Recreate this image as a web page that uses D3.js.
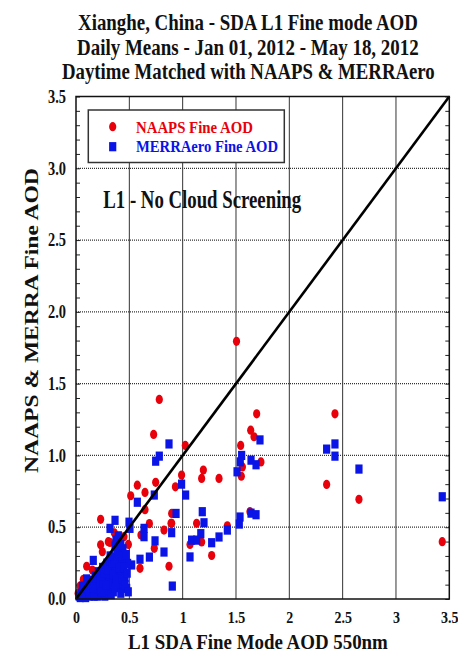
<!DOCTYPE html>
<html>
<head>
<meta charset="utf-8">
<script src="https://cdn.jsdelivr.net/npm/d3@7"></script>
<style>
  html, body { margin: 0; padding: 0; background: #fff; }
  svg { display: block; }
  text { font-family: "Liberation Serif", "Times New Roman", serif; font-weight: bold; }
</style>
</head>
<body>
<svg id="chart" width="458" height="658"></svg>
<script>
// Titles and labels
const titleLines = [
  "Xianghe, China - SDA L1 Fine mode AOD",
  "Daily Means - Jan 01, 2012 - May 18, 2012",
  "Daytime Matched with NAAPS & MERRAero"
];
const xAxisTitle = "L1 SDA Fine Mode AOD 550nm";
const yAxisTitle = "NAAPS & MERRA Fine AOD";
const noteText = "L1 - No Cloud Screening";
const seriesNames = ["NAAPS Fine AOD", "MERRAero Fine AOD"];

// Tick values and labels
const majorTicks = [0, 0.5, 1, 1.5, 2, 2.5, 3, 3.5];
const xTickLabels = ["0", "0.5", "1", "1.5", "2", "2.5", "3", "3.5"];
const yTickLabels = ["0.0", "0.5", "1.0", "1.5", "2.0", "2.5", "3.0", "3.5"];
const minorTicks = d3.range(0, 36).map(i => i / 10);

// NAAPS fine AOD vs. AERONET L1 SDA fine AOD  [x, y]
const naaps = [
  [1.505, 1.795], [0.781, 1.39], [0.728, 1.146], [1.025, 1.07], [1.694, 1.29],
  [2.428, 1.29], [1.638, 1.176], [1.669, 1.13], [1.544, 1.07], [1.734, 0.955],
  [1.55, 0.855], [1.56, 0.92], [1.194, 0.898], [1.178, 0.84], [1.341, 0.84],
  [0.99, 0.863], [0.932, 0.781], [0.897, 0.527], [1.131, 0.527], [1.069, 0.38],
  [1.178, 0.397], [1.419, 0.51], [1.631, 0.608], [1.272, 0.303], [2.35, 0.798],
  [2.653, 0.694], [3.434, 0.399], [0.747, 0.813], [0.575, 0.793], [0.647, 0.742],
  [0.513, 0.719], [0.647, 0.622], [0.231, 0.555], [0.359, 0.461], [0.45, 0.434],
  [0.491, 0.38], [0.688, 0.525], [0.609, 0.445], [0.734, 0.353], [0.825, 0.48],
  [0.897, 0.596], [0.891, 0.527], [0.6, 0.214], [0.872, 0.228], [0.231, 0.378],
  [0.303, 0.399], [0.381, 0.341], [0.397, 0.311], [0.397, 0.276], [0.1, 0.228],
  [0.153, 0.202], [0.366, 0.214], [0.413, 0.271], [0.341, 0.26], [0.069, 0.137],
  [0.038, 0.09], [0.341, 0.144], [0.247, 0.329], [0.319, 0.394], [0.02, 0.04]
];

// MERRAero fine AOD vs. AERONET L1 SDA fine AOD  [x, y]
const merra = [
  [0.872, 1.08], [0.781, 0.995], [0.747, 0.96], [1.725, 1.108], [2.35, 1.044],
  [2.428, 1.08], [2.428, 0.995], [1.553, 1.0], [1.54, 0.955], [1.51, 0.886],
  [1.641, 0.967], [1.688, 0.935], [0.99, 0.8], [1.028, 0.724], [0.938, 0.596],
  [0.897, 0.462], [1.184, 0.608], [1.2, 0.531], [1.17, 0.455], [1.084, 0.41],
  [1.131, 0.41], [1.272, 0.392], [1.341, 0.432], [1.419, 0.48], [1.538, 0.571],
  [1.531, 0.522], [1.641, 0.598], [1.688, 0.587], [1.069, 0.293], [2.653, 0.905],
  [3.434, 0.712], [0.575, 0.674], [0.734, 0.724], [0.366, 0.548], [0.319, 0.492],
  [0.497, 0.535], [0.506, 0.492], [0.375, 0.41], [0.638, 0.492], [0.638, 0.434],
  [0.741, 0.405], [0.825, 0.327], [0.6, 0.277], [0.688, 0.292], [0.522, 0.237],
  [0.903, 0.09], [0.366, 0.369], [0.162, 0.269], [0.434, 0.097], [0.475, 0.074],
  [0.403, 0.155], [0.303, 0.125], [0.334, 0.197], [0.484, 0.248], [0.397, 0.44],
  [0.03, 0.02], [0.05, 0.04], [0.07, 0.06], [0.08, 0.03], [0.1, 0.08],
  [0.11, 0.05], [0.12, 0.11], [0.13, 0.02], [0.14, 0.07], [0.15, 0.13],
  [0.16, 0.04], [0.17, 0.1], [0.18, 0.16], [0.19, 0.06], [0.2, 0.13],
  [0.21, 0.19], [0.22, 0.03], [0.23, 0.09], [0.24, 0.16], [0.25, 0.22],
  [0.26, 0.05], [0.27, 0.12], [0.28, 0.19], [0.29, 0.25], [0.3, 0.08],
  [0.31, 0.15], [0.32, 0.22], [0.33, 0.29], [0.35, 0.05], [0.36, 0.12],
  [0.37, 0.19], [0.38, 0.26], [0.39, 0.33], [0.41, 0.08], [0.42, 0.2],
  [0.43, 0.28], [0.44, 0.35], [0.46, 0.15], [0.1, 0.14], [0.06, 0.09],
  [0.2, 0.02], [0.04, 0.01], [0.09, 0.01], [0.12, 0.04], [0.14, 0.1],
  [0.17, 0.02], [0.19, 0.12], [0.21, 0.07], [0.23, 0.14], [0.25, 0.1],
  [0.26, 0.18], [0.27, 0.02], [0.29, 0.06], [0.3, 0.2], [0.31, 0.11],
  [0.33, 0.03], [0.34, 0.25], [0.35, 0.17], [0.37, 0.08], [0.38, 0.14],
  [0.4, 0.22], [0.41, 0.3], [0.42, 0.04], [0.43, 0.14], [0.45, 0.22],
  [0.46, 0.1], [0.47, 0.31], [0.48, 0.18], [0.49, 0.05], [0.36, 0.28],
  [0.32, 0.3], [0.42, 0.38], [0.16, 0.08], [0.24, 0.05], [0.28, 0.1]
];

const svg = d3.select("#chart");
const plot = { left: 76, right: 449.3, top: 96.5, bottom: 599 };

const x = d3.scaleLinear().domain([0, 3.5]).range([plot.left, plot.right]);
const y = d3.scaleLinear().domain([0, 3.5]).range([plot.bottom, plot.top]);

const squeeze = 0.8; // narrow letterforms for tick labels

// Place a text so that it starts at x0 on baseline y0 and spans `width` pixels
function fitText(sel, x0, y0, width) {
  sel.attr("x", 0).attr("y", 0);
  const natural = sel.node().getComputedTextLength();
  sel.attr("transform", `translate(${x0},${y0}) scale(${width / natural},1)`);
  return sel;
}

// Grid: solid verticals, dotted horizontals
const grid = svg.append("g");
grid.selectAll("line.v").data(majorTicks.slice(1, -1)).join("line")
  .attr("class", "v")
  .attr("x1", d => x(d)).attr("x2", d => x(d))
  .attr("y1", plot.top).attr("y2", plot.bottom)
  .attr("stroke", "#333").attr("stroke-width", 1);
grid.selectAll("line.h").data(majorTicks.slice(1, -1)).join("line")
  .attr("class", "h")
  .attr("x1", plot.left).attr("x2", plot.right)
  .attr("y1", d => y(d)).attr("y2", d => y(d))
  .attr("stroke", "#333").attr("stroke-width", 1.2)
  .attr("stroke-dasharray", "1,1");

// Minor ticks on left and right axes
svg.append("g").attr("transform", `translate(${plot.left},0)`)
  .call(d3.axisLeft(y).tickValues(minorTicks).tickSize(-4).tickFormat(""))
  .call(g => g.select(".domain").remove())
  .selectAll("line").attr("stroke", "#222");
svg.append("g").attr("transform", `translate(${plot.right},0)`)
  .call(d3.axisRight(y).tickValues(minorTicks).tickSize(-4).tickFormat(""))
  .call(g => g.select(".domain").remove())
  .selectAll("line").attr("stroke", "#222");

// Tick labels
const yAxis = svg.append("g").attr("transform", `translate(${plot.left},0)`)
  .call(d3.axisLeft(y).tickValues(majorTicks).tickSize(0).tickPadding(12.5)
    .tickFormat((d, i) => yTickLabels[i]));
yAxis.select(".domain").remove();
yAxis.selectAll("text")
  .attr("font-size", 18).attr("font-family", null).attr("fill", "#111")
  .attr("transform", `scale(${squeeze},1)`);

const xAxis = svg.append("g").attr("transform", `translate(0,${plot.bottom})`)
  .call(d3.axisBottom(x).tickValues(majorTicks).tickSize(0).tickPadding(11.5)
    .tickFormat((d, i) => xTickLabels[i]));
xAxis.select(".domain").remove();
xAxis.selectAll("text")
  .attr("font-size", 17.5).attr("font-family", null).attr("fill", "#111")
  .attr("transform", `scale(${squeeze},1)`);

// Legend box (opaque, drawn over the grid)
const legend = svg.append("g");
legend.append("rect")
  .attr("x", 88.3).attr("y", 110).attr("width", 196).attr("height", 52.5)
  .attr("fill", "#fff").attr("stroke", "#333").attr("stroke-width", 1.5);

// Data marks
const marks = svg.append("g");
marks.selectAll("ellipse").data(naaps).join("ellipse")
  .attr("cx", d => x(d[0])).attr("cy", d => y(d[1]))
  .attr("rx", 3.6).attr("ry", 4.6)
  .attr("fill", "#e8000b");
marks.selectAll("rect").data(merra).join("rect")
  .attr("x", d => x(d[0]) - 3.6).attr("y", d => y(d[1]) - 4.6)
  .attr("width", 7.2).attr("height", 9.2)
  .attr("fill", "#0a14e6");

// 1:1 reference line
svg.append("line")
  .attr("x1", x(0)).attr("y1", y(0)).attr("x2", x(3.5)).attr("y2", y(3.5))
  .attr("stroke", "#000").attr("stroke-width", 2.6);

// Plot frame
svg.append("rect")
  .attr("x", plot.left).attr("y", plot.top)
  .attr("width", plot.right - plot.left).attr("height", plot.bottom - plot.top)
  .attr("fill", "none").attr("stroke", "#111").attr("stroke-width", 1.5);

// Legend entries
legend.append("ellipse").attr("cx", 112.7).attr("cy", 126.7).attr("rx", 3.6).attr("ry", 4.6).attr("fill", "#e8000b");
legend.append("rect").attr("x", 109.1).attr("y", 142.1).attr("width", 7.2).attr("height", 9.2).attr("fill", "#0a14e6");
fitText(legend.append("text").attr("font-size", 17).attr("fill", "#e8000b").text(seriesNames[0]),
  136, 132.7, 117);
fitText(legend.append("text").attr("font-size", 17).attr("fill", "#0a14e6").text(seriesNames[1]),
  136, 151.7, 142);

// Annotation
fitText(svg.append("text").attr("font-size", 26).attr("fill", "#111").text(noteText),
  103.3, 208, 198);

// Title block
const titleSpans = [[78, 30, 340], [77, 54.5, 342], [62, 79, 373]];
svg.append("g").selectAll("text").data(titleLines).join("text")
  .attr("font-size", 22.3).attr("fill", "#111")
  .text(d => d)
  .each(function (d, i) {
    fitText(d3.select(this), titleSpans[i][0], titleSpans[i][1], titleSpans[i][2]);
  });

// Axis titles
fitText(svg.append("text").attr("font-size", 22).attr("fill", "#111").text(xAxisTitle),
  128, 648.5, 260);

const yTitle = svg.append("text").attr("font-size", 23).attr("fill", "#111")
  .attr("x", 0).attr("y", 0).text(yAxisTitle);
const yTitleLen = yTitle.node().getComputedTextLength();
yTitle.attr("transform", `translate(38,473) rotate(-90) scale(${305 / yTitleLen},0.82)`);
</script>
</body>
</html>
